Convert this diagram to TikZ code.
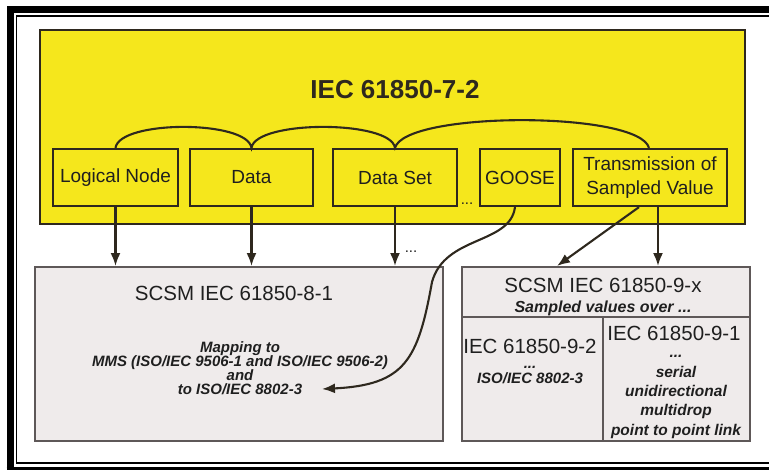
\documentclass[tikz,border=0pt]{standalone}
\usepackage{fontspec}
\setmainfont{Liberation Sans}
\usetikzlibrary{arrows.meta,positioning,calc}
\definecolor{IECyellow}{HTML}{F5E71C}
\definecolor{IECline}{HTML}{2E281E}
\definecolor{SCSMfill}{HTML}{EFEBEB}
\definecolor{SCSMline}{HTML}{5E5858}
\tikzset{
  iec/block/.style={draw=IECline, line width=2.2pt, minimum height=57pt, inner sep=0pt, align=center, font=\fontsize{19}{24}\selectfont},
  iec/panel/.style={draw=SCSMline, fill=SCSMfill, line width=2pt, inner sep=0pt},
  iec/head/.style={font=\fontsize{20.5}{24}\selectfont, inner sep=0pt},
  iec/note/.style={font=\bfseries\itshape\fontsize{15}{14}\selectfont, align=center, inner sep=0pt},
  iec/link/.style={draw=IECline, line width=2.1pt},
  iec/split/.style={draw=SCSMline, line width=2pt},
  arr/.style={-{Latex[length=13pt,width=10pt]}, line width=2.1pt, draw=IECline}
}

\begin{document}
\begin{tikzpicture}[x=1pt, y=-1pt, text=black!88]
  \useasboundingbox (0,0) rectangle (769,469);
  % page frame
  \draw[line width=7pt] (10,475) -- (10,9) -- (775,9);
  \draw[line width=5pt] (6.5,469.5) -- (775,469.5);
  \draw[line width=1.8pt] (775,16) -- (16.5,16) -- (16.5,463) -- (775,463);

  % IEC 61850-7-2 block
  \node[fill=IECyellow, draw=IECline, line width=2.4pt, minimum width=705pt, minimum height=194pt, inner sep=0pt] (acsi) at (392.5,127) {};
  \node[font=\bfseries\fontsize{26}{30}\selectfont, text=IECline] (acsititle) at (395,90) {IEC 61850-7-2};

  \node[iec/block, minimum width=125pt] (ln) at (115.5,177.5) {Logical Node};
  \node[iec/block, minimum width=123pt] (data) at (251.5,177.5) {Data};
  \node[iec/block, minimum width=124pt] (ds) at (395,177.5) {Data Set};
  \node[iec/block, minimum width=80pt] (goose) at (520,177.5) {GOOSE};
  \node[iec/block, minimum width=154pt] (tsv) at (650,177.5) {Transmission of\\Sampled Value};
  \node[anchor=base, font=\fontsize{15}{18}\selectfont, inner sep=0pt] (more) at (467,204) {...};

  \draw[iec/link] (ln.north) .. controls +(4,-28) and +(-4,-28) .. (data.north)
    .. controls +(4,-28) and +(-4,-28) .. (ds.north)
    .. controls +(10,-37) and +(-10,-37) .. ([xshift=-1pt]tsv.north);

  % mappings
  \node[iec/panel, minimum width=408pt, minimum height=174pt] (mms) at (239,354) {};
  \node[iec/head] (mmstitle) at (234,293) {SCSM IEC 61850-8-1};
  \node[iec/note] (mmstext) at (240,368) {Mapping to\\MMS (ISO/IEC 9506-1 and ISO/IEC 9506-2)\\and\\to ISO/IEC 8802-3};
  \coordinate (mmsend) at (322,389);

  \node[iec/panel, minimum width=288pt, minimum height=174pt] (sv) at (606,354) {};
  \coordinate (svsplit) at (603,317);
  \draw[iec/split] (sv.west |- svsplit) -- (sv.east |- svsplit);
  \draw[iec/split] (svsplit) -- (svsplit |- sv.south);
  \node[iec/head] (svtitle) at (603,285) {SCSM IEC 61850-9-x};
  \node[iec/note, font=\bfseries\itshape\fontsize{16}{18}\selectfont] (svover) at (603,308) {Sampled values over ...};
  \node[iec/head] (sv92) at (530,346) {IEC 61850-9-2};
  \node[iec/note, font=\bfseries\itshape\fontsize{15}{15}\selectfont] (sv92text) at (530,375) {...\\ISO/IEC 8802-3};
  \node[iec/head] (sv91) at (674,333) {IEC 61850-9-1};
  \node[iec/note, font=\bfseries\itshape\fontsize{15.5}{19.3}\selectfont] (sv91text) at (676,397) {...\\serial\\unidirectional\\multidrop\\point to point link};

  \draw[arr] (ln.south) -- (ln.south |- mms.north);
  \draw[arr] (data.south) -- (data.south |- mms.north);
  \draw[arr] (ds.south) -- (ds.south |- mms.north);
  \node[anchor=base, font=\fontsize{15}{18}\selectfont, inner sep=0pt] (moremms) at (411,252) {...};
  \draw[arr] ([xshift=-5pt]goose.south) .. controls (510,245) and (445,235) .. (432,282)
    .. controls (418,360) and (405,385) .. (mmsend);
  \draw[arr] ([xshift=-11pt]tsv.south) -- ([xshift=-49pt]sv.north);
  \draw[arr] ([xshift=8pt]tsv.south) -- ([xshift=8pt]tsv.south |- sv.north);
\end{tikzpicture}
\end{document}
